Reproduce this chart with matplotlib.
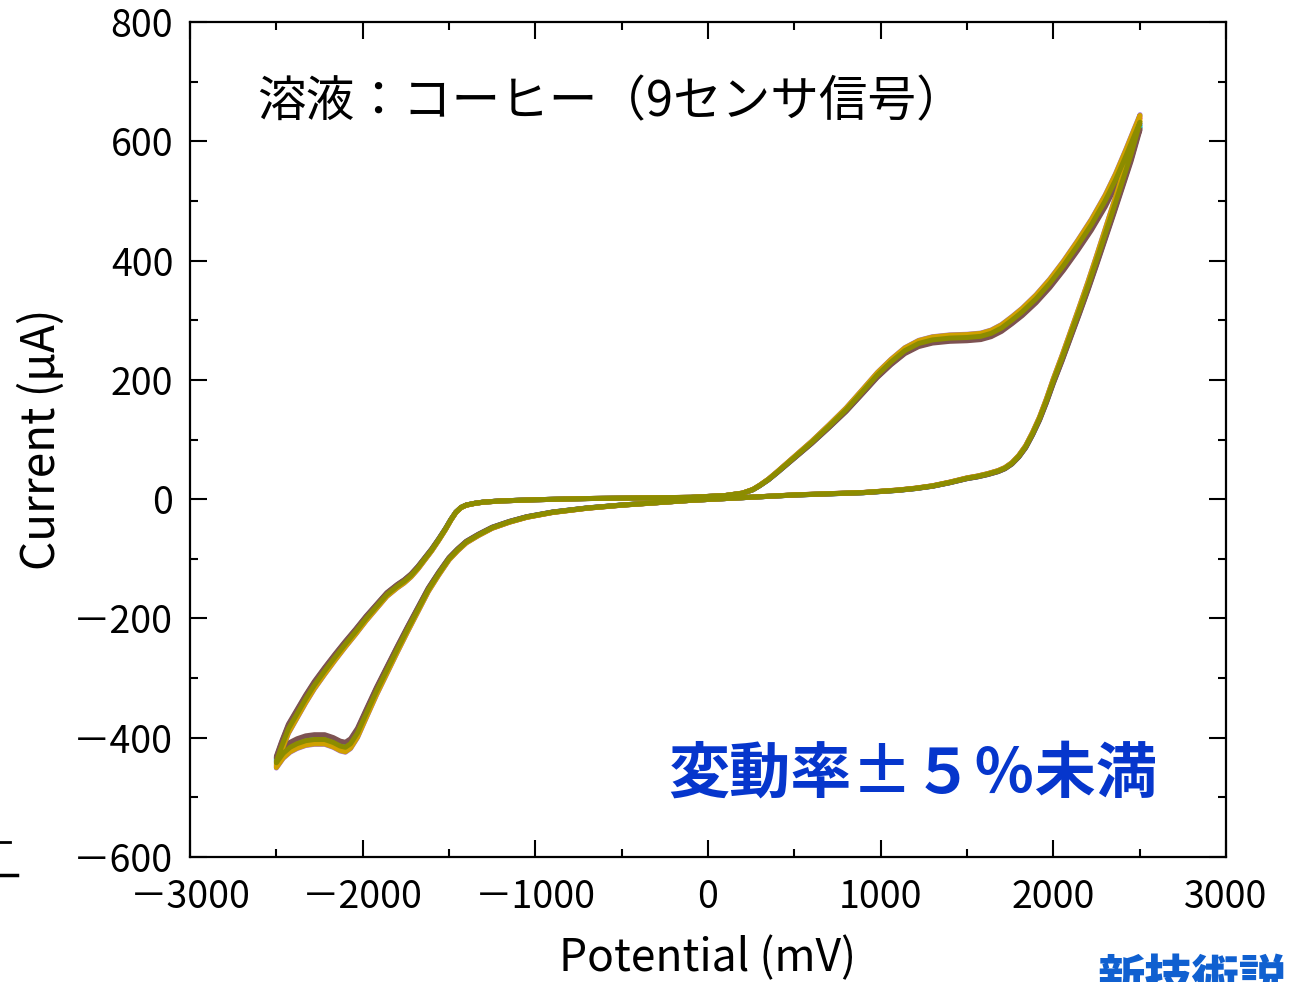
import matplotlib
matplotlib.use("Agg")
import matplotlib.pyplot as plt
from matplotlib.lines import Line2D
from matplotlib.ticker import FuncFormatter
import numpy as np

plt.rcParams['font.family'] = ['Noto Sans CJK JP', 'DejaVu Sans']

# Base cyclic voltammogram: potential (mV), current (uA)
forward_mV = [-2500, -2470, -2430, -2380, -2330, -2280, -2220, -2160, -2100, -2040, -1980,
              -1920, -1860, -1800, -1760, -1720, -1680, -1640, -1600, -1560, -1520, -1490,
              -1460, -1430, -1400, -1350, -1300, -1200, -1000, -700, -400, -100, 100, 200,
              260, 300, 350, 400, 500, 600, 700, 800, 900, 980, 1060, 1140, 1220, 1300,
              1400, 1500, 1580, 1640, 1700, 1760, 1820, 1900, 1980, 2060, 2140, 2220, 2300,
              2360, 2420, 2470, 2502]
forward_uA = [-440, -415, -385, -360, -335, -312, -288, -265, -243, -222, -200,
              -180, -160, -146, -138, -128, -115, -100, -85, -68, -50, -35,
              -22, -14, -10, -7, -5, -3, -1, 1, 2, 3, 6, 10,
              16, 23, 33, 45, 70, 95, 122, 150, 182, 208, 230, 249, 261, 267,
              270, 271, 273, 278, 287, 300, 314, 336, 362, 392, 425, 460, 500,
              535, 575, 610, 632]
reverse_mV = [2502, 2450, 2400, 2350, 2300, 2250, 2200, 2150, 2100, 2050, 2000, 1960,
              1920, 1880, 1840, 1800, 1760, 1720, 1680, 1620, 1560, 1500, 1400, 1300,
              1200, 1100, 900, 700, 500, 300, 100, -100, -300, -500, -700, -900, -1050,
              -1150, -1250, -1330, -1400, -1450, -1500, -1560, -1620, -1680, -1740, -1800,
              -1860, -1920, -1980, -2030, -2070, -2100, -2130, -2170, -2220, -2280, -2330,
              -2380, -2420, -2460, -2500]
reverse_uA = [625, 578, 533, 488, 444, 400, 357, 316, 276, 236, 198, 165,
              135, 110, 88, 72, 60, 52, 47, 42, 38, 35, 28, 22,
              18, 15, 11, 9, 7, 4, 1, -2, -6, -10, -15, -22, -30,
              -38, -48, -60, -72, -85, -100, -125, -152, -185, -218, -252,
              -287, -322, -360, -392, -410, -416, -414, -408, -403, -403, -405,
              -410, -416, -426, -442]

# Nine sensor signals: relative gain of each sensor (spread under +/-5%)
sensor_gain = [0.985, 1.012, 0.995, 1.020, 0.990, 1.005, 0.980, 1.018, 1.000]
sensor_colors = ['#5a5a5a', '#e8302c', '#3a58c8', '#a070d8', '#10c8cc',
                 '#e0a800', '#7d5252', '#d0a000', '#8c8c00']

xticks = [-3000, -2000, -1000, 0, 1000, 2000, 3000]
yticks = [-600, -400, -200, 0, 200, 400, 600, 800]

fig = plt.figure(figsize=(12.93, 9.82), dpi=100)
ax = fig.add_axes([190/1293, 1-857/982, (1226-190)/1293, (857-22)/982])

fx = np.array(forward_mV + reverse_mV[1:], dtype=float)
fy = np.array(forward_uA + reverse_uA[1:], dtype=float)
for g, c in zip(sensor_gain, sensor_colors):
    ax.plot(fx, fy * g, color=c, lw=3.6, solid_joinstyle='round', solid_capstyle='round')

def fmt(v, pos):
    v = int(round(v))
    return ('\uff0d' + str(-v)) if v < 0 else str(v)

ax.set_xlim(-3000, 3000)
ax.set_ylim(-600, 800)
ax.set_xticks(xticks)
ax.set_yticks(yticks)
ax.set_xticks(np.arange(-3000, 3001, 500), minor=True)
ax.set_yticks(np.arange(-600, 801, 100), minor=True)
ax.xaxis.set_major_formatter(FuncFormatter(fmt))
ax.yaxis.set_major_formatter(FuncFormatter(fmt))
ax.tick_params(which='both', direction='in', top=True, right=True, width=1.5)
ax.tick_params(which='major', length=12, labelsize=27)
ax.tick_params(axis='y', which='major', pad=12)
ax.tick_params(axis='x', which='major', pad=15)
ax.tick_params(which='minor', length=6)
for s in ax.spines.values():
    s.set_linewidth(1.6)

ax.set_xlabel('Potential (mV)', fontsize=32, va='center')
ax.xaxis.set_label_coords(0.5, (857-958)/835)
ax.set_ylabel('Current (μA)', fontsize=33, va='center')
ax.yaxis.set_label_coords((42-190)/1036, 0.5)

ax.text((257-190)/1036, (857-103)/835, '溶液：コーヒー（9センサ信号）', transform=ax.transAxes,
        fontsize=35, ha='left', va='center', color='black')
ax.text((1157-190)/1036, (857-775)/835, '変動率±５％未満', transform=ax.transAxes,
        fontsize=44, ha='right', va='center', color='#0636cc', fontweight='bold')

fig.text(1098/1293, 1-955/982, '新技術説', fontsize=34, color='#1060d0',
         fontweight='heavy', ha='left', va='top')
fig.add_artist(Line2D([0, 10/1293], [1-842/982, 1-842/982], color='black', lw=2))
fig.add_artist(Line2D([0, 17/1293], [1-875/982, 1-875/982], color='black', lw=2.5))

fig.savefig('out.png', dpi=100)
